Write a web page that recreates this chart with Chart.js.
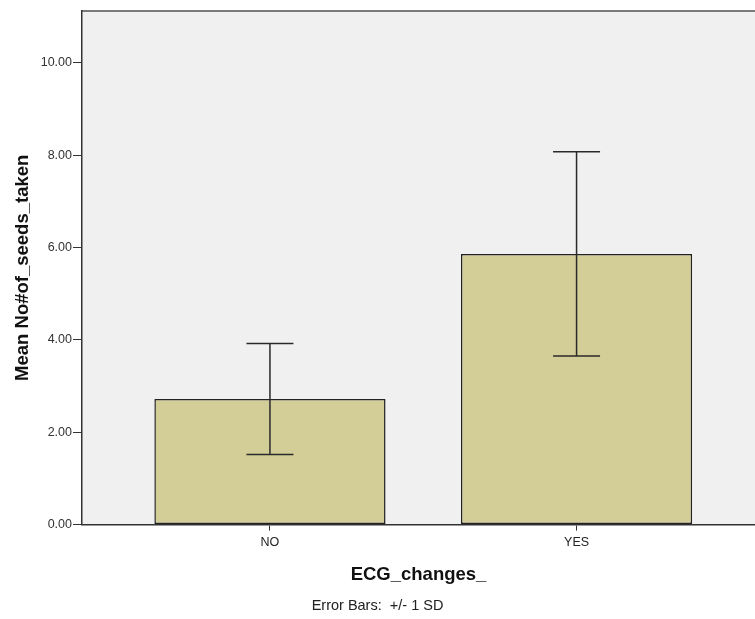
<!DOCTYPE html>
<html>
<head>
<meta charset="utf-8">
<script src="https://cdn.jsdelivr.net/npm/chart.js@4/dist/chart.umd.min.js"></script>
<style>
  html, body { margin: 0; padding: 0; background: #ffffff; }
  canvas { display: block; }
</style>
</head>
<body>
<canvas id="c" width="755" height="619"></canvas>
<script>
// ---- data ----
const categories = ['NO', 'YES'];
const categoryPositions = [0, 1];
const means = [2.72, 5.86];
const sds = [1.20, 2.21];
const yTicks = [0, 2, 4, 6, 8, 10];
const xTitle = 'ECG_changes_';
const yTitle = 'Mean No#of_seeds_taken';
const footnote = 'Error Bars:  +/- 1 SD';

const FONT = '"Liberation Sans", Arial, sans-serif';

const bgPlugin = {
  id: 'plotBg',
  beforeDraw(chart) {
    const {ctx, chartArea: a} = chart;
    ctx.save();
    ctx.fillStyle = '#F0F0F0';
    ctx.fillRect(a.left, a.top, a.right - a.left, a.bottom - a.top);
    ctx.strokeStyle = '#7a7a7a';
    ctx.lineWidth = 2;
    ctx.beginPath();
    ctx.moveTo(a.left, a.top);
    ctx.lineTo(a.right, a.top);
    ctx.stroke();
    ctx.restore();
  }
};

const errorBarPlugin = {
  id: 'errorBars',
  afterDatasetsDraw(chart) {
    const {ctx, scales: {x, y}} = chart;
    ctx.save();
    ctx.strokeStyle = '#2a2a2a';
    ctx.lineWidth = 1.5;
    const capHalf = 23.5;
    means.forEach((m, i) => {
      const px = x.getPixelForValue(categoryPositions[i]);
      const yHi = y.getPixelForValue(m + sds[i]);
      const yLo = y.getPixelForValue(m - sds[i]);
      ctx.beginPath();
      ctx.moveTo(px, yHi); ctx.lineTo(px, yLo);
      ctx.moveTo(px - capHalf, yHi); ctx.lineTo(px + capHalf, yHi);
      ctx.moveTo(px - capHalf, yLo); ctx.lineTo(px + capHalf, yLo);
      ctx.stroke();
    });
    ctx.restore();
  }
};

new Chart(document.getElementById('c'), {
  type: 'bar',
  data: {
    datasets: [{
      data: categoryPositions.map((p, i) => ({x: p, y: means[i]})),
      backgroundColor: '#D3CE97',
      borderColor: '#222222',
      borderWidth: 1.5,
      borderSkipped: false,
      categoryPercentage: 1,
      barPercentage: 0.754
    }]
  },
  options: {
    responsive: false,
    animation: false,
    layout: { padding: { top: 11, left: 0, right: 0, bottom: 0 } },
    plugins: {
      legend: { display: false },
      tooltip: { enabled: false },
      subtitle: {
        display: true,
        position: 'bottom',
        text: footnote,
        color: '#222222',
        font: { family: FONT, size: 14.5, weight: 'normal' },
        padding: { top: 0, bottom: 4 }
      }
    },
    scales: {
      x: {
        type: 'linear',
        min: -0.613,
        max: 1.582,
        offset: false,
        afterBuildTicks(axis) { axis.ticks = categoryPositions.map(v => ({value: v})); },
        afterFit(axis) { axis.height = 73; },
        ticks: {
          autoSkip: false,
          maxRotation: 0,
          padding: 4,
          color: '#222222',
          font: { family: FONT, size: 12.5 },
          callback: (v) => categories[categoryPositions.indexOf(v)]
        },
        grid: { drawOnChartArea: false, drawTicks: true, tickLength: 6, offset: false, color: '#333333' },
        border: { display: true, color: '#333333', width: 1.5 },
        title: {
          display: true,
          text: xTitle,
          color: '#111111',
          font: { family: FONT, size: 18.5, weight: 'bold' },
          padding: { top: 0, bottom: 12 }
        }
      },
      y: {
        min: 0,
        max: 11.12,
        afterBuildTicks(axis) { axis.ticks = yTicks.map(v => ({value: v})); },
        afterFit(axis) { axis.width = 82; },
        ticks: {
          padding: 1,
          color: '#333333',
          font: { family: FONT, size: 12.5 },
          callback: (v) => Number(v).toFixed(2)
        },
        grid: { drawOnChartArea: false, drawTicks: true, tickLength: 9, color: '#333333' },
        border: { display: true, color: '#333333', width: 1.5 },
        title: {
          display: true,
          text: yTitle,
          color: '#111111',
          font: { family: FONT, size: 18.5, weight: 'bold' },
          padding: { top: 12, bottom: 0 }
        }
      }
    }
  },
  plugins: [bgPlugin, errorBarPlugin]
});
</script>
</body>
</html>
